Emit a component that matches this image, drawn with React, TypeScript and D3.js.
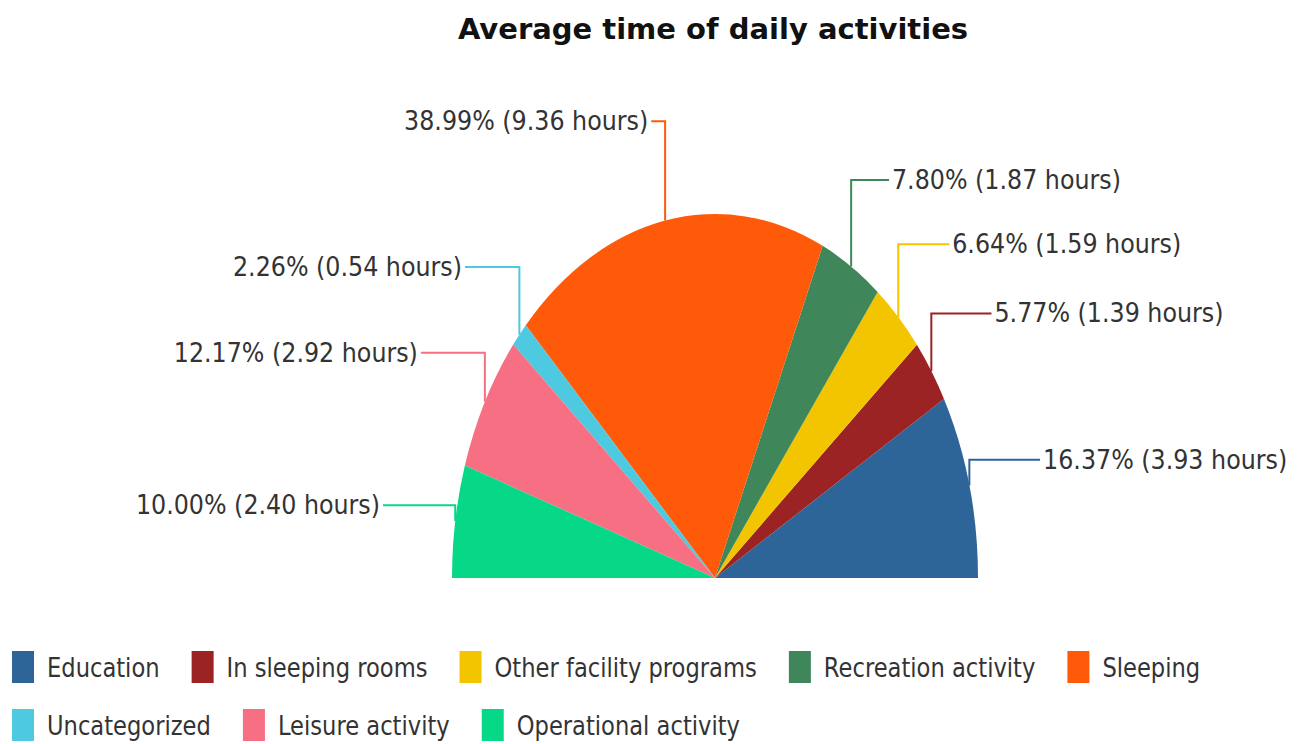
import React, { useEffect, useRef } from 'react';
import * as d3 from 'd3';

const categories = [
  'Education',
  'In sleeping rooms',
  'Other facility programs',
  'Recreation activity',
  'Sleeping',
  'Uncategorized',
  'Leisure activity',
  'Operational activity',
];
const percents = [16.37, 5.77, 6.64, 7.8, 38.99, 2.26, 12.17, 10.0];
const hours = [3.93, 1.39, 1.59, 1.87, 9.36, 0.54, 2.92, 2.4];
const colors = ['#2e6599', '#9b2323', '#f2c500', '#3f875a', '#ff5a0a', '#4dc9e0', '#f76f82', '#06d887'];

const W = 1302;
const H = 744;

const App = () => {
  const svgRef = useRef<SVGSVGElement>(null);

  useEffect(() => {
    const svg = d3.select(svgRef.current);
    svg.selectAll('*').remove();

    const font = 'DejaVu Sans';
    const labelSx = 0.915; // horizontal squeeze of the slice labels
    const legendSx = 0.87;
    const cx = 715;
    const cy = 578;
    const r = 263;
    const ky = 364 / 263; // the pie is stretched vertically
    const labelR = r * 1.278;

    svg
      .append('text')
      .attr('x', 713)
      .attr('y', 39)
      .attr('text-anchor', 'middle')
      .attr('font-family', font)
      .attr('font-weight', 'bold')
      .attr('font-size', 29)
      .attr('fill', '#111')
      .text('Average time of daily activities');

    const pie = d3
      .pie<number>()
      .sort(null)
      .value((d) => d)
      .startAngle(Math.PI / 2)
      .endAngle(-Math.PI / 2);
    const arcs = pie(percents);
    const arc = d3.arc<d3.PieArcDatum<number>>().innerRadius(0).outerRadius(r);

    const g = svg.append('g').attr('transform', `translate(${cx},${cy})`);
    g.append('g')
      .attr('transform', `scale(1,${ky})`)
      .selectAll('path')
      .data(arcs)
      .join('path')
      .attr('d', arc)
      .attr('fill', (_, i) => colors[i]);

    arcs.forEach((a, i) => {
      const mid = (a.startAngle + a.endAngle) / 2;
      const x1 = r * Math.sin(mid);
      const y1 = -r * Math.cos(mid) * ky;
      const x2 = labelR * Math.sin(mid);
      const y2 = -labelR * Math.cos(mid) * ky;
      const right = x2 > 0;
      g.append('path')
        .attr('d', `M${x1},${y1}L${x1},${y2}L${x2},${y2}`)
        .attr('fill', 'none')
        .attr('stroke', colors[i])
        .attr('stroke-width', 2);
      g.append('text')
        .attr('transform', `translate(${x2 + (right ? 3 : -3)},${y2}) scale(${labelSx},1)`)
        .attr('text-anchor', right ? 'start' : 'end')
        .attr('dominant-baseline', 'central')
        .attr('font-family', font)
        .attr('font-size', 26)
        .attr('fill', '#333')
        .text(`${percents[i].toFixed(2)}% (${hours[i].toFixed(2)} hours)`);
    });

    // legend, flowing into rows
    const legend = svg.append('g');
    let lx = 12;
    let row = 0;
    categories.forEach((c, i) => {
      const item = legend.append('g');
      const t = item
        .append('text')
        .attr('dominant-baseline', 'central')
        .attr('font-family', font)
        .attr('font-size', 26)
        .attr('fill', '#333')
        .text(c);
      const tw = (t.node() as SVGTextElement).getComputedTextLength() * legendSx;
      const itemW = 35 + tw;
      if (lx + itemW > W - 8) {
        lx = 12;
        row += 1;
      }
      const ly = 651 + row * 58;
      item
        .append('rect')
        .attr('x', lx)
        .attr('y', ly)
        .attr('width', 22)
        .attr('height', 32)
        .attr('fill', colors[i]);
      t.attr('transform', `translate(${lx + 35},${ly + 17}) scale(${legendSx},1)`);
      lx += itemW + 32;
    });
  }, []);

  return (
    <svg
      ref={svgRef}
      width={W}
      height={H}
      style={{ position: 'absolute', left: 0, top: 0, background: '#fff' }}
    />
  );
};

export default App;
